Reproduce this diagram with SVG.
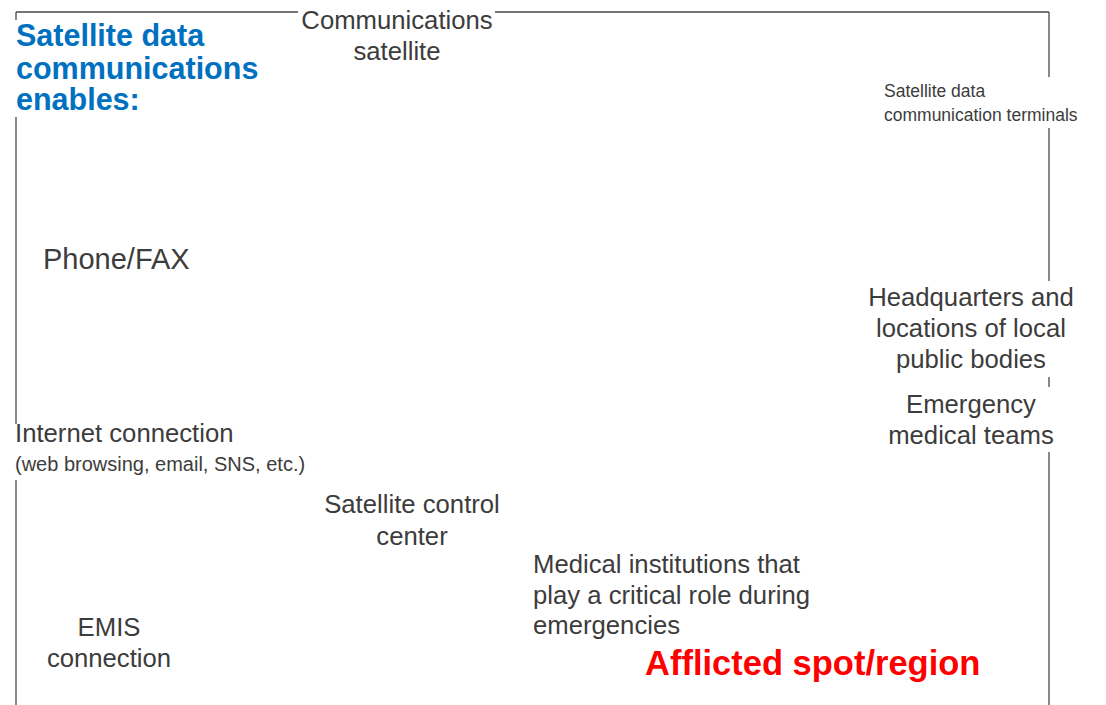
<svg xmlns="http://www.w3.org/2000/svg" width="1106" height="705" viewBox="0 0 1106 705">
<style>
.frame{stroke:#4a4a4a;stroke-width:1.3;fill:none}
.lbl{font-family:"Liberation Sans",Arial,sans-serif;fill:#3c3c3c;font-size:25.7px}
.mid{text-anchor:middle}
.small{font-size:17.5px}
.title{font-family:"Liberation Sans",Arial,sans-serif;font-weight:bold;fill:#0070c0;font-size:30.5px}
.red{font-family:"Liberation Sans",Arial,sans-serif;font-weight:bold;fill:#ff0000;font-size:34.5px}
</style>
<rect width="1106" height="705" fill="#ffffff"/>
<g id="connectors">
<path class="frame" d="M16 12H298M495 12H1049"/>
<path class="frame" d="M16 12V20M16 117V424M16 480V705"/>
<path class="frame" d="M1049 12V77M1049 128V281M1049 377V387M1049 452V705"/>
</g>
<g id="title"><text class="title" x="16" y="46">Satellite data</text><text class="title" x="16" y="78.5">communications</text><text class="title" x="16" y="110">enables:</text></g>
<g id="satellite"><text class="lbl mid" x="397" y="29">Communications</text><text class="lbl mid" x="397" y="60">satellite</text></g>
<g id="terminals"><text class="lbl small" x="884" y="97">Satellite data</text><text class="lbl small" x="884" y="121">communication terminals</text></g>
<g id="phone"><text class="lbl" x="43" y="269" style="font-size:29px">Phone/FAX</text></g>
<g id="hq"><text class="lbl mid" x="971" y="306">Headquarters and</text><text class="lbl mid" x="971" y="337">locations of local</text><text class="lbl mid" x="971" y="368">public bodies</text></g>
<g id="emt"><text class="lbl mid" x="971" y="413">Emergency</text><text class="lbl mid" x="971" y="444">medical teams</text></g>
<g id="internet"><text class="lbl" x="15" y="442">Internet connection</text><text class="lbl small" x="15" y="471" style="font-size:20px">(web browsing, email, SNS, etc.)</text></g>
<g id="control"><text class="lbl mid" x="412" y="513">Satellite control</text><text class="lbl mid" x="412" y="545">center</text></g>
<g id="medical"><text class="lbl" x="533" y="573">Medical institutions that</text><text class="lbl" x="533" y="604">play a critical role during</text><text class="lbl" x="533" y="634">emergencies</text></g>
<g id="emis"><text class="lbl mid" x="109" y="636">EMIS</text><text class="lbl mid" x="109" y="667">connection</text></g>
<g id="afflicted"><text class="red" x="645" y="675">Afflicted spot/region</text></g>
</svg>
